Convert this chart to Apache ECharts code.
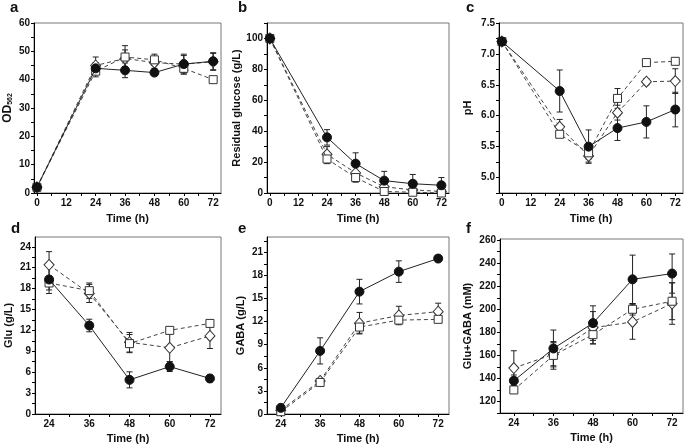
<!DOCTYPE html>
<html><head><meta charset="utf-8">
<script src="https://cdn.jsdelivr.net/npm/echarts@6/dist/echarts.min.js"></script>
<style>html,body{margin:0;padding:0;background:#fff}#c{width:685px;height:446px}</style>
</head><body><div id="c"></div>
<script>
// ---- data ----
const timeTop = [0, 24, 36, 48, 60, 72];
const timeBot = [24, 36, 48, 60, 72];

// a: OD562
const odCircle = [2, 44, 43.3, 42.5, 45.5, 46.5];
const odCircleErr = [0, 2, 2.6, 1, 3.5, 3];
const odSquare = [2, 43, 48, 47, 44, 40];
const odSquareErr = [0, 2, 4, 2, 2, 0.5];
const odDiamond = [2, 45, 47.5, 46, 45.5, 46.3];
const odDiamondErr = [0, 3, 3, 2, 3, 3];

// b: residual glucose
const gluCircle = [100, 36, 19, 8, 6, 5];
const gluCircleErr = [0, 5, 7, 6, 6, 5];
const gluSquare = [100, 22, 10, 1, 0.5, 0];
const gluSquareErr = [0, 3, 3, 1, 1, 1];
const gluDiamond = [100, 25, 13, 4, 2, 1];
const gluDiamondErr = [0, 5, 4, 2, 1, 1];

// c: pH
const phCircle = [7.2, 6.4, 5.5, 5.8, 5.9, 6.1];
const phCircleErr = [0, 0.34, 0.27, 0.2, 0.26, 0.28];
const phSquare = [7.2, 5.7, 5.4, 6.28, 6.86, 6.88];
const phSquareErr = [0, 0.04, 0.1, 0.16, 0.03, 0.05];
const phDiamond = [7.2, 5.82, 5.35, 6.05, 6.55, 6.56];
const phDiamondErr = [0, 0.12, 0.1, 0.12, 0.05, 0.2];

// d: Glu
const gCircle = [19.3, 12.7, 4.9, 6.8, 5.1];
const gCircleErr = [2, 0.9, 1.15, 0.7, 0.5];
const gSquare = [18.8, 17.7, 10.1, 12.0, 13.0];
const gSquareErr = [1, 1.1, 1.3, 0.3, 0.3];
const gDiamond = [21.4, 17.3, 10.3, 9.5, 11.2];
const gDiamondErr = [1.9, 1.3, 1.4, 2, 1.8];

// e: GABA
const gabaCircle = [0.8, 8.2, 15.9, 18.5, 20.2];
const gabaCircleErr = [0.3, 1.7, 1.6, 1.4, 0.2];
const gabaSquare = [0.3, 4.1, 11.3, 12.2, 12.3];
const gabaSquareErr = [0.3, 0.3, 0.8, 0.4, 0.2];
const gabaDiamond = [0.5, 4.3, 11.8, 12.8, 13.3];
const gabaDiamondErr = [0.3, 0.3, 1.4, 1.2, 1.1];

// f: Glu+GABA (mM)
const sumCircle = [138, 166, 188, 226, 231];
const sumCircleErr = [5, 16, 15, 21, 17];
const sumSquare = [130, 160, 178, 200, 207];
const sumSquareErr = [3, 12, 8, 5, 16];
const sumDiamond = [149, 161, 184, 189, 205];
const sumDiamondErr = [15, 10, 14, 15, 18];

// tick labels
const xTopLabels = [0, 12, 24, 36, 48, 60, 72];
const xTopTicks = [0, 6, 12, 18, 24, 30, 36, 42, 48, 54, 60, 66, 72];
const xBotLabels = [24, 36, 48, 60, 72];
const xBotTicks = [24, 30, 36, 42, 48, 54, 60, 66, 72];
const yLabelsA = [0, 10, 20, 30, 40, 50, 60];
const yLabelsB = [0, 20, 40, 60, 80, 100];
const yLabelsC = [5.0, 5.5, 6.0, 6.5, 7.0, 7.5];
const yLabelsD = [0, 3, 6, 9, 12, 15, 18, 21, 24];
const yLabelsE = [0, 3, 6, 9, 12, 15, 18, 21];
const yLabelsF = [120, 140, 160, 180, 200, 220, 240, 260];

function halfSteps(arr, extraEnd) {
  const out = [];
  const step = arr[1] - arr[0];
  for (let i = 0; i < arr.length; i++) {
    out.push(arr[i]);
    if (i < arr.length - 1 || extraEnd) out.push(+(arr[i] + step / 2).toFixed(4));
  }
  return out;
}

// ---- layout ----
const grids = [
  {left: 34, top: 23, width: 187, height: 170},
  {left: 267, top: 23, width: 182, height: 170},
  {left: 499, top: 23, width: 184, height: 170},
  {left: 35, top: 237, width: 186, height: 177},
  {left: 267, top: 237, width: 182, height: 177},
  {left: 500, top: 239, width: 183, height: 174}
].map(g => Object.assign({show: true, borderColor: '#777', borderWidth: 1, backgroundColor: 'transparent'}, g));

const FONT = 'Liberation Sans, Arial, sans-serif';
const labelStyle = {fontFamily: FONT, fontWeight: 'bold', fontSize: 10, color: '#111'};

function xAxis(i, top) {
  return {
    type: 'value', gridIndex: i,
    min: top ? -1.2 : 19.8, max: top ? 75.2 : 75.3,
    name: 'Time (h)', nameLocation: 'middle', nameGap: top ? 20 : 19,
    nameTextStyle: {fontFamily: FONT, fontWeight: 'bold', fontSize: 11, color: '#111'},
    axisLine: {show: true, onZero: false, lineStyle: {color: '#000', width: 1}},
    axisTick: {show: true, length: 3, inside: false, customValues: top ? xTopTicks : xBotTicks, lineStyle: {color: '#000'}},
    axisLabel: Object.assign({margin: 5, customValues: top ? xTopLabels : xBotLabels}, labelStyle),
    splitLine: {show: false}
  };
}
function yAxis(i, min, max, labels, ticks, name, gap, fmt) {
  return {
    type: 'value', gridIndex: i, min: min, max: max,
    name: name, nameLocation: 'middle', nameGap: gap, nameRotate: 90,
    nameTextStyle: {fontFamily: FONT, fontWeight: 'bold', fontSize: 11, color: '#111',
      rich: {a: {fontFamily: FONT, fontWeight: 'bold', fontSize: 12, color: '#111'},
             s: {fontFamily: FONT, fontWeight: 'bold', fontSize: 7, color: '#111', padding: [5, 0, 0, 0]}}},
    axisLine: {show: true, onZero: false, lineStyle: {color: '#000', width: 1}},
    axisTick: {show: true, length: 3, customValues: ticks, lineStyle: {color: '#000'}},
    axisLabel: Object.assign({margin: 4, customValues: labels, formatter: fmt || (v => String(v))}, labelStyle),
    splitLine: {show: false}
  };
}

const xAxes = [xAxis(0, true), xAxis(1, true), xAxis(2, true), xAxis(3, false), xAxis(4, false), xAxis(5, false)];
const yAxes = [
  yAxis(0, 0, 60, yLabelsA, halfSteps(yLabelsA), '{a|OD}{s|562}', 20),
  yAxis(1, 0, 110, yLabelsB, halfSteps(yLabelsB, true), 'Residual glucose (g/L)', 21),
  yAxis(2, 4.75, 7.5, yLabelsC, [4.75].concat(halfSteps(yLabelsC)), 'pH', 26, v => v.toFixed(1)),
  yAxis(3, 0, 25.4, yLabelsD, halfSteps(yLabelsD), 'Glu (g/L)', 21),
  yAxis(4, 0, 23, yLabelsE, halfSteps(yLabelsE, true), 'GABA (g/L)', 21),
  yAxis(5, 110, 261, yLabelsF, [110].concat(halfSteps(yLabelsF)), 'Glu+GABA (mM)', 27)
];

function errSeries(idx, xs, ys, es) {
  return {
    type: 'custom', xAxisIndex: idx, yAxisIndex: idx, z: 1, silent: true,
    data: xs.map((x, k) => [x, ys[k], es[k]]),
    renderItem: function (params, api) {
      const x = api.value(0), y = api.value(1), e = api.value(2);
      if (!e) return null;
      const hi = api.coord([x, y + e]), lo = api.coord([x, y - e]);
      const w = 3;
      const st = {stroke: '#222', lineWidth: 1};
      return {type: 'group', children: [
        {type: 'line', shape: {x1: hi[0], y1: hi[1], x2: lo[0], y2: lo[1]}, style: st},
        {type: 'line', shape: {x1: hi[0] - w, y1: hi[1], x2: hi[0] + w, y2: hi[1]}, style: st},
        {type: 'line', shape: {x1: lo[0] - w, y1: lo[1], x2: lo[0] + w, y2: lo[1]}, style: st}
      ]};
    }
  };
}
function lineSeries(idx, xs, ys, kind, z) {
  const circle = kind === 'circle';
  return {
    type: 'line', xAxisIndex: idx, yAxisIndex: idx, z: z,
    data: xs.map((x, k) => [x, ys[k]]),
    symbol: circle ? 'circle' : (kind === 'square' ? 'rect' : 'diamond'),
    symbolSize: circle ? 9 : (kind === 'square' ? 8 : [10, 11]),
    showAllSymbol: true, animation: false,
    lineStyle: {color: circle ? '#222' : '#444', width: 1, type: circle ? 'solid' : [4, 3]},
    itemStyle: {color: circle ? '#111' : '#fff', borderColor: circle ? '#111' : '#333', borderWidth: 1},
    emphasis: {disabled: true}
  };
}

const panels = [
  [timeTop, odSquare, odSquareErr, odDiamond, odDiamondErr, odCircle, odCircleErr],
  [timeTop, gluSquare, gluSquareErr, gluDiamond, gluDiamondErr, gluCircle, gluCircleErr],
  [timeTop, phSquare, phSquareErr, phDiamond, phDiamondErr, phCircle, phCircleErr],
  [timeBot, gSquare, gSquareErr, gDiamond, gDiamondErr, gCircle, gCircleErr],
  [timeBot, gabaSquare, gabaSquareErr, gabaDiamond, gabaDiamondErr, gabaCircle, gabaCircleErr],
  [timeBot, sumSquare, sumSquareErr, sumDiamond, sumDiamondErr, sumCircle, sumCircleErr]
];
const series = [];
panels.forEach((p, i) => {
  const xs = p[0];
  series.push(errSeries(i, xs, p[1], p[2]));
  series.push(errSeries(i, xs, p[3], p[4]));
  series.push(errSeries(i, xs, p[5], p[6]));
  series.push(lineSeries(i, xs, p[3], 'diamond', 2));
  series.push(lineSeries(i, xs, p[1], 'square', 3));
  series.push(lineSeries(i, xs, p[5], 'circle', 4));
});

const letters = [['a', 10, 0], ['b', 238, 0], ['c', 466, 0], ['d', 11, 221], ['e', 238, 221], ['f', 466, 221]];
const chart = echarts.init(document.getElementById('c'), null, {renderer: 'canvas'});
chart.setOption({
  animation: false,
  backgroundColor: '#fff',
  title: letters.map(l => ({text: l[0], left: l[1], top: l[2], padding: 0,
    textStyle: {fontFamily: FONT, fontWeight: 'bold', fontSize: 15, color: '#111'}})),
  grid: grids,
  xAxis: xAxes,
  yAxis: yAxes,
  series: series
});
</script></body></html>
